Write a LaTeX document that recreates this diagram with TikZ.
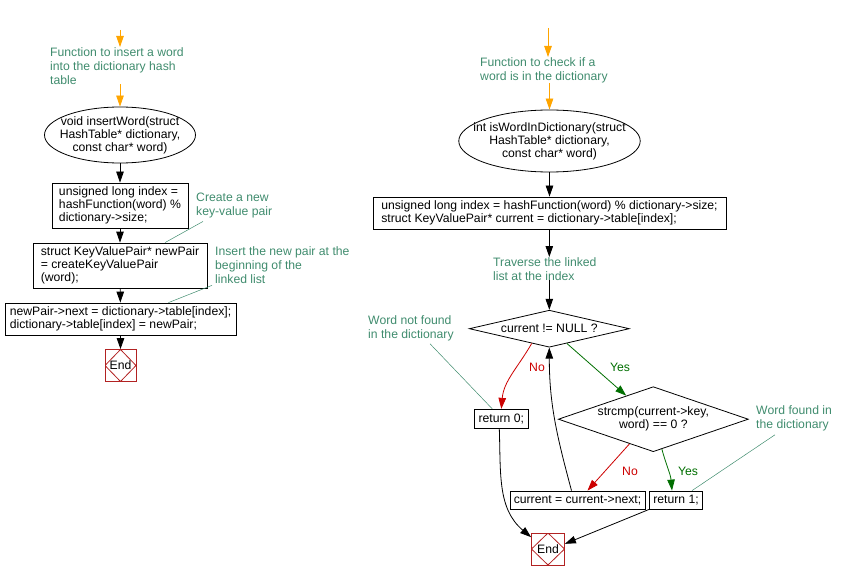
\documentclass[tikz,border=0pt]{standalone}
\usepackage{fontspec}
\setmainfont{Liberation Sans}
\usetikzlibrary{shapes.geometric,arrows.meta}

\definecolor{notegreen}{RGB}{64,140,110}
\definecolor{startorange}{RGB}{255,165,0}
\definecolor{nored}{RGB}{204,0,0}
\definecolor{yesgreen}{RGB}{0,110,0}
\definecolor{endred}{RGB}{178,34,34}

\begin{document}
\begin{tikzpicture}[x=1pt,y=-1pt,
        font=\fontsize{12.2}{13}\selectfont,
        stmt/.style={draw,align=left,inner sep=2pt,line width=0.8pt},
        func/.style={draw,ellipse,align=center,inner ysep=-2pt,line width=0.8pt},
        cond/.style={draw,diamond,align=center,inner sep=0pt,line width=0.8pt},
        stop/.style={draw=endred,line width=0.8pt,minimum width=31pt,minimum height=32pt,inner sep=0pt,
            path picture={\draw[endred] (path picture bounding box.north) -- (path picture bounding box.east)
                -- (path picture bounding box.south) -- (path picture bounding box.west) -- cycle;}},
        note/.style={text=notegreen,align=left,anchor=north west,inner sep=0pt,
            font=\fontsize{12.2}{14}\selectfont},
        noteline/.style={draw=notegreen,line width=0.5pt},
        flow/.style={line width=0.8pt,-{Triangle[length=11pt,width=7.5pt]}},
        lbl/.style={inner sep=0pt}]

        \useasboundingbox (0,0) rectangle (843,580);

        \def \lx {120}
        \def \rx {548}

        % insertWord
        \coordinate (s1) at (\lx,30);
        \node[note] (n1) at (50,47) {Function to insert a word\\into the dictionary hash\\table};
        \node[func,inner xsep=-7pt,minimum width=151pt,minimum height=56pt] (f1) at (\lx,135)
            {void insertWord(struct\\HashTable* dictionary,\\const char* word)};
        \node[stmt,minimum width=136pt,minimum height=45pt] (b1) at (\lx,205.5)
            {unsigned long index =\\hashFunction(word) \%\\dictionary->size;};
        \node[stmt,minimum width=174pt,minimum height=45pt] (b2) at (\lx,265.5)
            {struct KeyValuePair* newPair\\= createKeyValuePair\\(word);};
        \node[stmt,minimum width=231pt,minimum height=32pt] (b3) at (120.5,319)
            {newPair->next = dictionary->table[index];\\dictionary->table[index] = newPair;};
        \node[stop] (e1) at (120.5,365.5) {End};
        \node[note] (c1) at (196,193) {Create a new\\key-value pair};
        \node[note] (c2) at (215,246) {Insert the new pair at the\\beginning of the\\linked list};

        \draw[flow,draw=startorange,-{Triangle[length=11pt,width=7.5pt,fill=startorange]}] (s1) -- (s1 |- n1.north);
        \draw[flow,draw=startorange,-{Triangle[length=11pt,width=7.5pt,fill=startorange]}] (n1.south -| f1.north) -- (f1.north);
        \draw[flow] (f1) -- (b1);
        \draw[flow] (b1) -- (b2);
        \draw[flow] (b2) -- (b3);
        \draw[flow] (b3) -- (e1);
        \draw[noteline] ([xshift=45pt]b2.north) -- ([xshift=7pt,yshift=-3pt]c1.south west);
        \draw[noteline] ([xshift=48pt]b3.north) -- ([xshift=-3pt,yshift=-2pt]c2.south west);

        % isWordInDictionary
        \coordinate (s2) at (\rx,28);
        \node[note] (n2) at (480,57) {Function to check if a\\word is in the dictionary};
        \node[func,inner xsep=-12pt,minimum width=179pt,minimum height=62pt] (f2) at (549.5,141)
            {int isWordInDictionary(struct\\HashTable* dictionary,\\const char* word)};
        \node[stmt,minimum width=353pt,minimum height=32pt] (b4) at (549.5,213)
            {unsigned long index = hashFunction(word) \% dictionary->size;\\struct KeyValuePair* current = dictionary->table[index];};
        \node[note] (n3) at (493,257) {Traverse the linked\\list at the index};
        \node[cond,aspect=4.3,minimum width=160pt,minimum height=37pt] (d1) at (549.3,328.7) {current != NULL ?};
        \node[stmt,minimum width=54pt,minimum height=19pt] (r0) at (501.3,418.8) {return 0;};
        \node[cond,aspect=2.9,inner sep=-3pt,minimum width=190pt,minimum height=65pt] (d2) at (653.3,419.2)
            {strcmp(current->key,\\word) == 0 ?};
        \node[stmt,minimum width=135pt,minimum height=18pt] (cn) at (577.5,500) {current = current->next;};
        \node[stmt,minimum width=53pt,minimum height=18pt] (r1) at (676,500) {return 1;};
        \node[stop,minimum width=33pt] (e2) at (548,549) {End};
        \node[note] (n4) at (368,315) {Word not found\\in the dictionary};
        \node[note] (n5) at (756,405) {Word found in\\the dictionary};

        \node[lbl,text=nored] (no1) at (537,367) {No};
        \node[lbl,text=yesgreen] (yes1) at (620,367) {Yes};
        \node[lbl,text=nored] (no2) at (630,471) {No};
        \node[lbl,text=yesgreen] (yes2) at (688,471) {Yes};

        \draw[flow,draw=startorange,-{Triangle[length=11pt,width=7.5pt,fill=startorange]}] (s2) -- (s2 |- n2.north);
        \draw[flow,draw=startorange,-{Triangle[length=11pt,width=7.5pt,fill=startorange]}] (n2.south -| f2.north) -- (f2.north);
        \draw[flow] (f2) -- (b4);
        \draw[flow] (b4.south -| d1.north) -- (n3.north -| d1.north);
        \draw[flow] (n3.south -| d1.north) -- (d1.north);
        \draw[flow,draw=nored,-{Triangle[length=11pt,width=7.5pt,fill=nored]}] (d1.220) to[out=240,in=85] (r0.north);
        \draw[flow,draw=yesgreen,-{Triangle[length=11pt,width=7.5pt,fill=yesgreen]}] (d1.320) -- (d2.139);
        \draw[flow,draw=nored,-{Triangle[length=11pt,width=7.5pt,fill=nored]}] (d2.226) -- ([xshift=10pt]cn.north);
        \draw[flow,draw=yesgreen,-{Triangle[length=11pt,width=7.5pt,fill=yesgreen]}] (d2.286) to[out=285,in=95] ([xshift=-4pt]r1.north);
        \draw[flow] ([xshift=-6pt]cn.north) to[out=105,in=270] (d1.south);
        \draw[flow] ([xshift=-2pt]r0.south) to[out=272,in=140] (e2.145);
        \draw[flow] (r1.south west) -- (e2.17);
        \draw[noteline] ([xshift=62pt,yshift=-3pt]n4.south west) -- ([xshift=-9pt]r0.north);
        \draw[noteline] ([xshift=19pt,yshift=-4pt]n5.south west) -- ([xshift=16pt]r1.north);

    \end{tikzpicture}
\end{document}
